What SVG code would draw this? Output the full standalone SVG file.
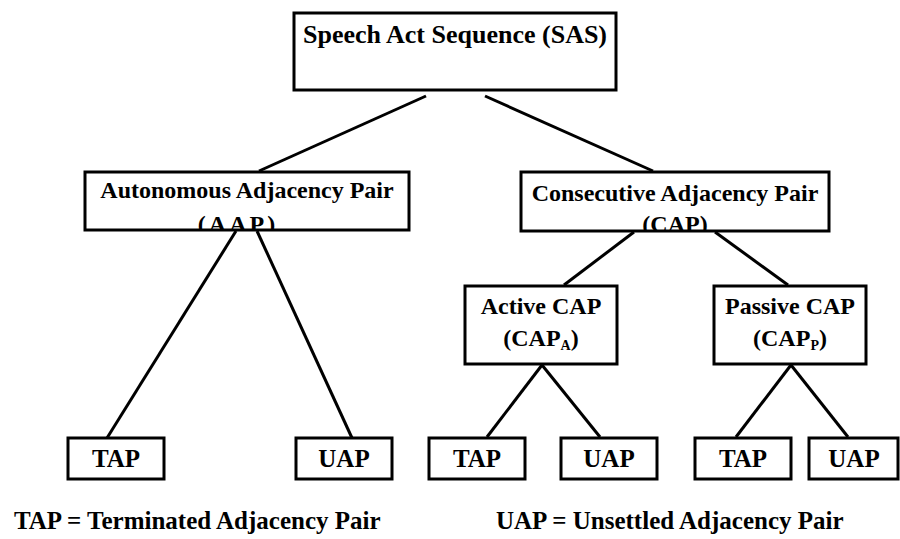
<svg xmlns="http://www.w3.org/2000/svg" width="900" height="539" viewBox="0 0 900 539">
<style>
.box{fill:#fff;stroke:#000;stroke-width:3}
.t{font-family:"Liberation Serif","Times New Roman",serif;font-weight:bold;fill:#000;text-anchor:middle}
.lbl{font-size:24px}
.leaf{font-size:25px}
.leg{font-family:"Liberation Serif","Times New Roman",serif;font-weight:bold;font-size:25px;fill:#000}
.sub{font-size:14px}
#connectors line{stroke:#000;stroke-width:3;stroke-linecap:butt}
</style>
<defs>
<clipPath id="clipAAP"><rect x="85" y="172" width="324" height="57"/></clipPath>
<clipPath id="clipCAP"><rect x="521" y="172" width="308" height="58"/></clipPath>
</defs>
<g id="connectors">
<line x1="426" y1="96" x2="259" y2="171"/>
<line x1="485" y1="96" x2="653" y2="171"/>
<line x1="236" y1="231" x2="107" y2="438"/>
<line x1="257" y1="231" x2="352" y2="438"/>
<line x1="634" y1="232" x2="564" y2="285"/>
<line x1="715" y1="232" x2="788" y2="285"/>
<line x1="542" y1="365" x2="487" y2="437"/>
<line x1="542" y1="365" x2="600" y2="437"/>
<line x1="791" y1="365" x2="736" y2="437"/>
<line x1="791" y1="365" x2="848" y2="437"/>
</g>
<g id="sas">
<rect class="box" x="294" y="13" width="322" height="77"/>
<text class="t" x="455" y="43" font-size="26">Speech Act Sequence (SAS)</text>
</g>
<g id="aap">
<rect class="box" x="85" y="172" width="324" height="58"/>
<text class="t lbl" x="247" y="198">Autonomous Adjacency Pair</text>
<text class="t lbl" x="238" y="232" letter-spacing="3" clip-path="url(#clipAAP)">(AAP)</text>
</g>
<g id="cap">
<rect class="box" x="521" y="172" width="308" height="59"/>
<text class="t lbl" x="675" y="201">Consecutive Adjacency Pair</text>
<text class="t lbl" x="675" y="232" clip-path="url(#clipCAP)">(CAP)</text>
</g>
<g id="active">
<rect class="box" x="465" y="286" width="152" height="78"/>
<text class="t lbl" x="541" y="314">Active CAP</text>
<text class="t lbl" x="541" y="346">(CAP<tspan class="sub" dy="4">A</tspan><tspan dy="-4">)</tspan></text>
</g>
<g id="passive">
<rect class="box" x="714" y="286" width="152" height="78"/>
<text class="t lbl" x="790" y="314">Passive CAP</text>
<text class="t lbl" x="790" y="346">(CAP<tspan class="sub" dy="4">P</tspan><tspan dy="-4">)</tspan></text>
</g>
<g id="tap1">
<rect class="box" x="68" y="438" width="96" height="41"/>
<text class="t leaf" x="116" y="467">TAP</text>
</g>
<g id="uap1">
<rect class="box" x="296" y="438" width="96" height="41"/>
<text class="t leaf" x="344" y="467">UAP</text>
</g>
<g id="tap2">
<rect class="box" x="429" y="438" width="96" height="41"/>
<text class="t leaf" x="477" y="467">TAP</text>
</g>
<g id="uap2">
<rect class="box" x="561" y="438" width="96" height="41"/>
<text class="t leaf" x="609" y="467">UAP</text>
</g>
<g id="tap3">
<rect class="box" x="695" y="438" width="96" height="41"/>
<text class="t leaf" x="743" y="467">TAP</text>
</g>
<g id="uap3">
<rect class="box" x="809" y="438" width="89" height="41"/>
<text class="t leaf" x="854" y="467">UAP</text>
</g>
<g id="legend">
<text class="leg" x="14" y="529">TAP = Terminated Adjacency Pair</text>
<text class="leg" x="496" y="529">UAP = Unsettled Adjacency Pair</text>
</g>
</svg>
